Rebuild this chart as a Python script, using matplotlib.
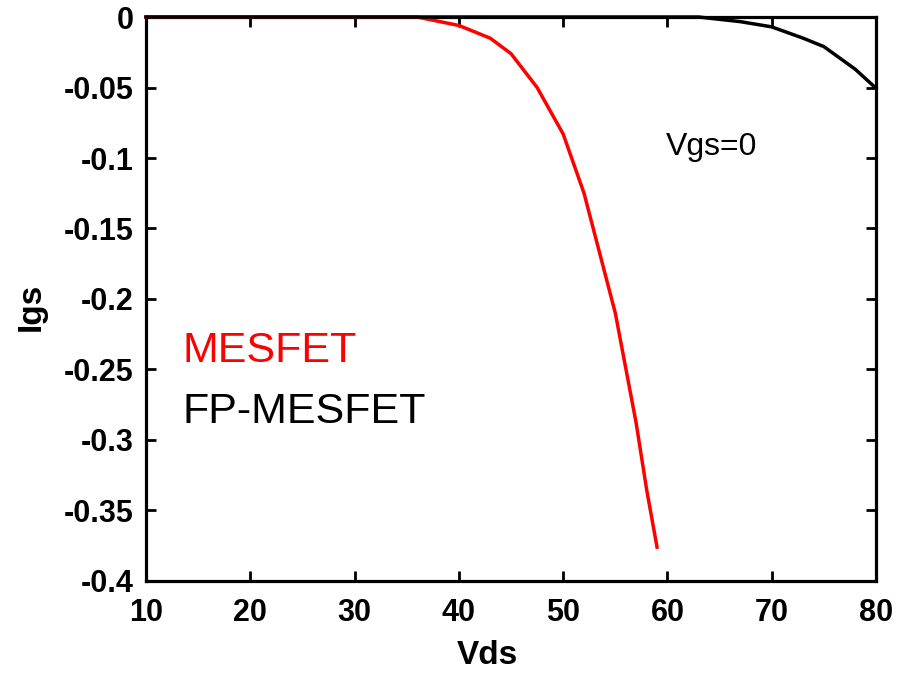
import numpy as np
import matplotlib
matplotlib.use('Agg')
import matplotlib.pyplot as plt

plt.rcParams['font.family'] = ['Liberation Sans', 'DejaVu Sans']
plt.rcParams['axes.unicode_minus'] = False

# MESFET (red) gate current vs drain voltage
vds_mesfet = [10, 20, 30, 36, 40, 43, 45, 47.5, 50, 52, 55, 57, 58, 59]
igs_mesfet = [0, 0, 0, 0, -0.006, -0.015, -0.026, -0.050, -0.083, -0.125, -0.21, -0.288, -0.335, -0.376]

# FP-MESFET (black)
vds_fp = [10, 60, 63, 67, 70, 73, 75, 78, 80]
igs_fp = [0, 0, 0, -0.0033, -0.007, -0.015, -0.021, -0.037, -0.0505]

xticks = [10, 20, 30, 40, 50, 60, 70, 80]
yticks = [0, -0.05, -0.1, -0.15, -0.2, -0.25, -0.3, -0.35, -0.4]
ytick_labels = ['0', '-0.05', '-0.1', '-0.15', '-0.2', '-0.25', '-0.3', '-0.35', '-0.4']

fig = plt.figure(figsize=(9.02, 6.75), dpi=100)
ax = fig.add_axes([0.1619, 0.1393, 0.8093, 0.8355])

ax.plot(vds_mesfet, igs_mesfet, color='red', lw=2.5, clip_on=False, zorder=3)
ax.plot(vds_fp, igs_fp, color='black', lw=2.5, clip_on=False, zorder=3)

ax.set_xlim(10, 80)
ax.set_ylim(-0.4, 0)
ax.set_xticks(xticks)
ax.set_xticklabels([str(v) for v in xticks])
ax.set_yticks(yticks)
ax.set_yticklabels(ytick_labels)
ax.tick_params(direction='in', length=7, width=2, top=True, right=True,
               labelsize=22)
ax.tick_params(axis='x', pad=12)
ax.tick_params(axis='y', pad=9)
for lbl in ax.get_xticklabels() + ax.get_yticklabels():
    lbl.set_fontweight('bold')
for s in ax.spines.values():
    s.set_linewidth(2.3)

ax.set_xlabel('Vds', fontsize=24, fontweight='bold')
ax.xaxis.set_label_coords(0.467, -0.104)
ax.set_ylabel('Igs', fontsize=24, fontweight='bold')
ax.yaxis.set_label_coords(-0.1356, 0.486)

ax.text(13.45, -0.2447, 'MESFET', color='red', fontsize=31, va='baseline')
ax.text(13.45, -0.288, 'FP-MESFET', color='black', fontsize=31, va='baseline')
ax.text(59.8, -0.098, 'Vgs=0', color='black', fontsize=23, va='baseline')

fig.savefig('out.png', dpi=100)
